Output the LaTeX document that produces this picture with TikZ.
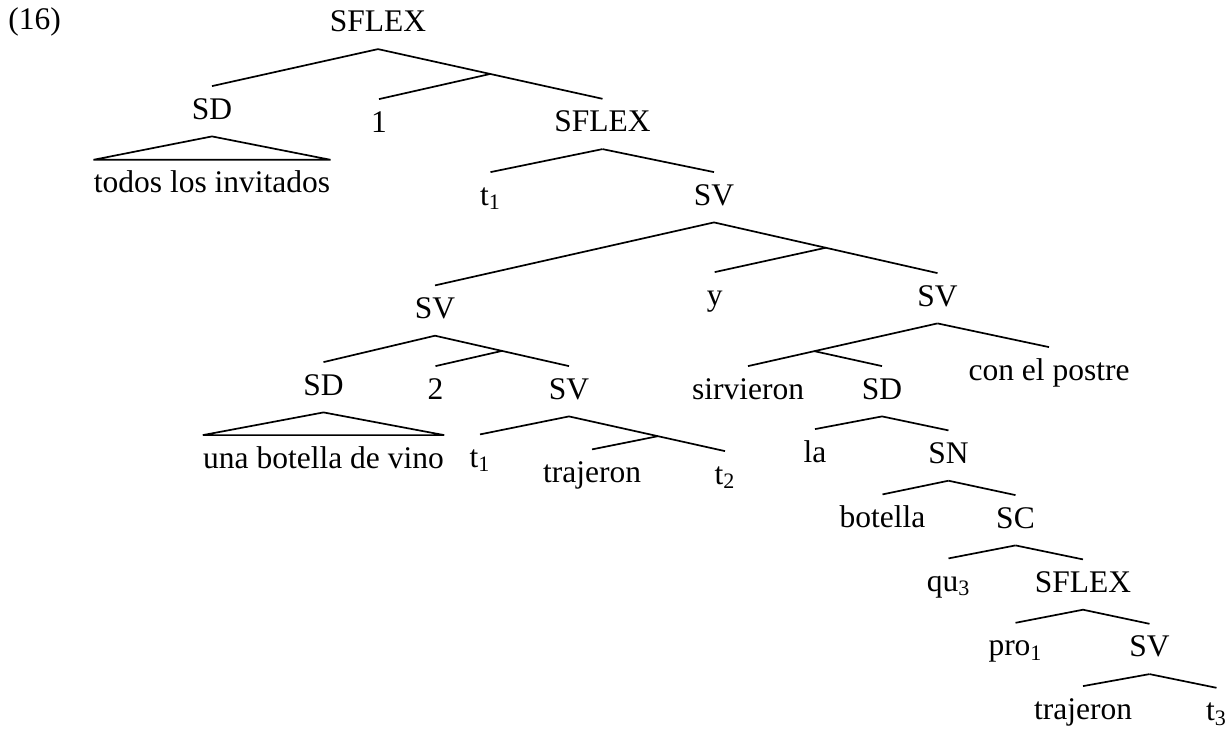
\documentclass[tikz,border=0pt]{standalone}
\usepackage{fontspec}
\setmainfont{Liberation Serif}
\usepackage{tikz}
\usetikzlibrary{calc}
\pgfdeclarelayer{bg}
\pgfsetlayers{bg,main}
\tikzset{
    every node/.style={anchor=base, inner xsep=0pt, inner ysep=5.5pt, text height=10.75pt, text depth=3pt, font=\fontsize{15.75}{19}\selectfont}
}
\tikzset{branch/.style={line width=0.85pt}}
\begin{document}
\begin{tikzpicture}[x=0.5pt, y=-0.5pt]
        \useasboundingbox (0,0) rectangle (1231,729);
        \node (v0) [anchor=base west] at (8, 29.5) {(16)};
        \node (v1) at (378, 31.7) {SFLEX};
        \node (v2) at (212, 119) {SD};
        \node (v3) at (379, 132) {1};
        \node (v4) at (602.5, 131.7) {SFLEX};
        \node (v5) at (212, 192.7) {todos los invitados};
        \node (v6) at (490.5, 205) {t\textsubscript{1}};
        \node (v7) at (714, 205) {SV};
        \node (v8) at (435, 318.3) {SV};
        \node (v9) at (714.7, 305) {y};
        \node (v10) at (937.5, 306) {SV};
        \node (v11) at (323.5, 395) {SD};
        \node (v12) at (435.5, 399) {2};
        \node (v13) at (569, 399) {SV};
        \node (v14) at (748, 399) {sirvieron};
        \node (v15) at (882, 399) {SD};
        \node (v16) at (1049, 380) {con el postre};
        \node (v17) at (323.5, 468) {una botella de vino};
        \node (v18) at (480, 467.3) {t\textsubscript{1}};
        \node (v19) at (592, 482.3) {trajeron};
        \node (v20) at (725, 484) {t\textsubscript{2}};
        \node (v21) at (815, 462) {la};
        \node (v22) at (948.5, 463.3) {SN};
        \node (v23) at (882.5, 527.3) {botella};
        \node (v24) at (1015.5, 528) {SC};
        \node (v25) at (948.5, 591.3) {qu\textsubscript{3}};
        \node (v26) at (1083, 592.3) {SFLEX};
        \node (v27) at (1015.5, 655.7) {pro\textsubscript{1}};
        \node (v28) at (1149.5, 656.7) {SV};
        \node (v29) at (1083, 719) {trajeron};
        \node (v30) at (1216.5, 720.7) {t\textsubscript{3}};
        \coordinate (j1) at ($(v1.south)!0.5!(v4.north)$);
        \coordinate (j2) at ($(v7.south)!0.5!(v10.north)$);
        \coordinate (j3) at ($(v8.south)!0.5!(v13.north)$);
        \coordinate (j4) at ($(v13.south)!0.57!(v20.north)$);
        \coordinate (j5) at ($(v10.south)!0.65!(v14.north)$);
        \begin{pgfonlayer}{bg}
                \draw (v1.south) edge [branch] (v2.north);
                \draw (v1.south) edge [branch] (v4.north);
                \draw (j1) edge [branch] (v3.north);
                \draw [branch] (v2.south) -- (v5.north west) -- (v5.north east) -- cycle;
                \draw (v4.south) edge [branch] (v6.north);
                \draw (v4.south) edge [branch] (v7.north);
                \draw (v7.south) edge [branch] (v8.north);
                \draw (v7.south) edge [branch] (v10.north);
                \draw (j2) edge [branch] (v9.north);
                \draw (v8.south) edge [branch] (v11.north);
                \draw (v8.south) edge [branch] (v13.north);
                \draw (j3) edge [branch] (v12.north);
                \draw [branch] (v11.south) -- (v17.north west) -- (v17.north east) -- cycle;
                \draw (v13.south) edge [branch] (v18.north);
                \draw (v13.south) edge [branch] (v20.north);
                \draw (j4) edge [branch] (v19.north);
                \draw (v10.south) edge [branch] (v14.north);
                \draw (v10.south) edge [branch] (v16.north);
                \draw (j5) edge [branch] (v15.north);
                \draw (v15.south) edge [branch] (v21.north);
                \draw (v15.south) edge [branch] (v22.north);
                \draw (v22.south) edge [branch] (v23.north);
                \draw (v22.south) edge [branch] (v24.north);
                \draw (v24.south) edge [branch] (v25.north);
                \draw (v24.south) edge [branch] (v26.north);
                \draw (v26.south) edge [branch] (v27.north);
                \draw (v26.south) edge [branch] (v28.north);
                \draw (v28.south) edge [branch] (v29.north);
                \draw (v28.south) edge [branch] (v30.north);
        \end{pgfonlayer}
\end{tikzpicture}
\end{document}
